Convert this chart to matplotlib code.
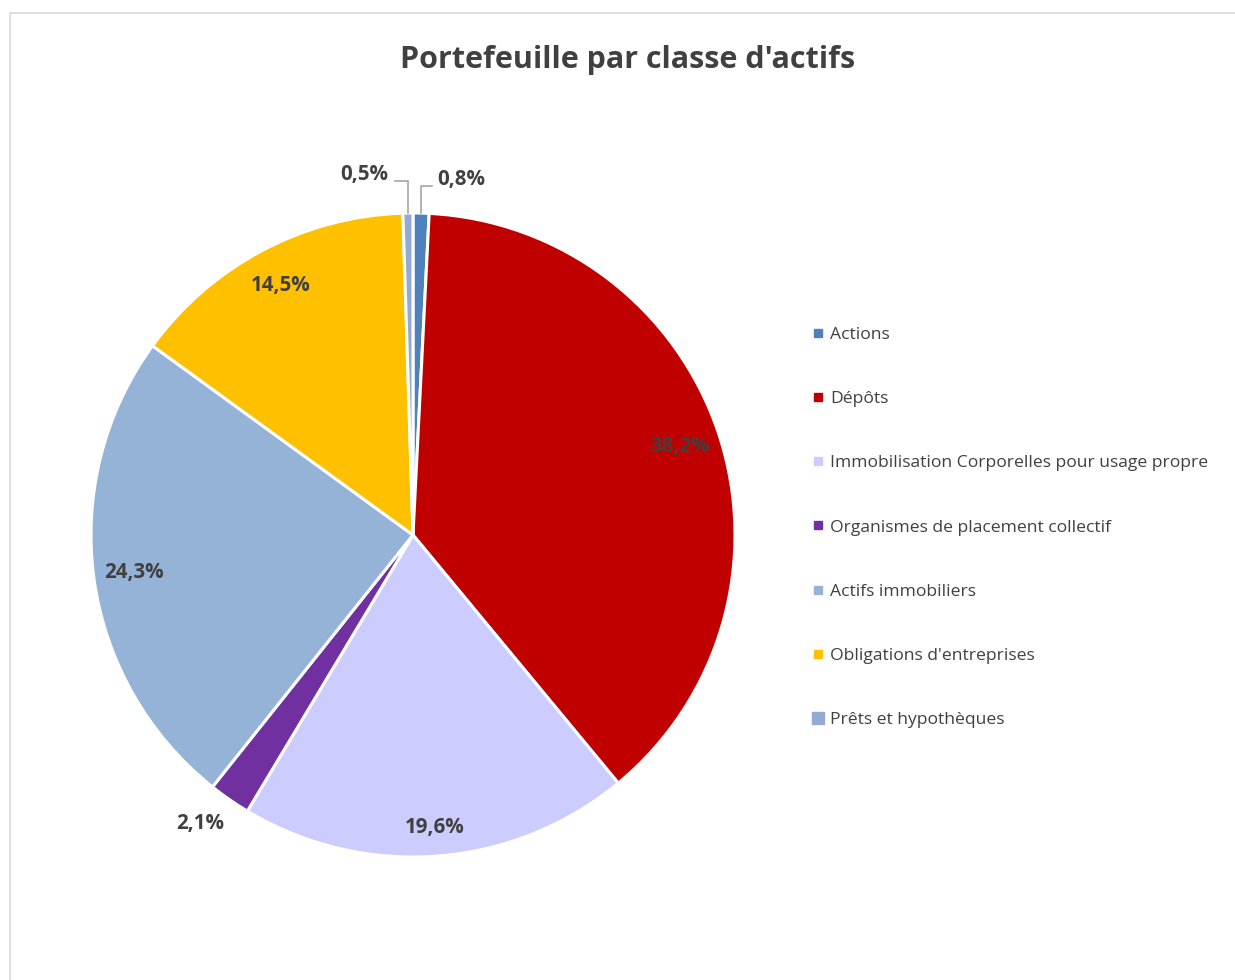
import numpy as np
import matplotlib.pyplot as plt
from matplotlib.lines import Line2D
from matplotlib.patches import Rectangle

plt.rcParams['font.family'] = ['Open Sans', 'DejaVu Sans']

# données
categories = ['Actions', 'Dépôts', 'Immobilisation Corporelles pour usage propre',
              'Organismes de placement collectif', 'Actifs immobiliers',
              "Obligations d'entreprises", 'Prêts et hypothèques']
values = [0.8, 38.2, 19.6, 2.1, 24.3, 14.5, 0.5]
colors = ['#4F81BD', '#C00000', '#CCCCFF', '#7030A0', '#95B3D7', '#FFC000', '#94A9D4']
label_txt = ['0,8%', '38,2%', '19,6%', '2,1%', '24,3%', '14,5%', '0,5%']

fig = plt.figure(figsize=(12.35, 9.8), dpi=100)

# cadre gris du graphique
fig.patches.append(Rectangle((10 / 1235, -0.1), 1.2, (980 - 13) / 980 + 0.1,
                             transform=fig.transFigure, fill=False,
                             edgecolor='#d9d9d9', lw=1.2))

fig.text(0.508, 0.939, "Portefeuille par classe d'actifs", ha='center', va='center',
         fontsize=22, fontweight='bold', color='#404040')

ax = fig.add_axes([91 / 1235, 123 / 980, 644 / 1235, 644 / 980])
wedges, _ = ax.pie(values, colors=colors, startangle=90, counterclock=False,
                   radius=1, wedgeprops=dict(edgecolor='white', linewidth=2.2))
ax.set_xlim(-1, 1)
ax.set_ylim(-1, 1)
ax.set_aspect('equal')
ax.axis('off')

txt_kw = dict(fontsize=14.8, fontweight='bold', color='#404040', ha='center', va='center')
for i, w in enumerate(wedges):
    ang = np.deg2rad((w.theta1 + w.theta2) / 2)
    if i == 0 or i == 6:
        # petites parts: ligne de rappel
        x0 = np.cos(ang)
        yl = 1.10 if i == 6 else 1.085
        if i == 0:
            xe = x0 + 0.035
            ax.plot([x0, x0, xe], [np.sin(ang), yl, yl], color='#a6a6a6', lw=1.2, clip_on=False)
            ax.text(xe + 0.015, yl + 0.02, label_txt[i], clip_on=False,
                    **{**txt_kw, 'ha': 'left'})
        else:
            xe = x0 - 0.04
            ax.plot([x0, x0, xe], [np.sin(ang), yl, yl], color='#a6a6a6', lw=1.2, clip_on=False)
            ax.text(xe - 0.02, yl + 0.02, label_txt[i], clip_on=False,
                    **{**txt_kw, 'ha': 'right'})
    elif i == 3:
        ax.text(1.09 * np.cos(ang) - 0.04, 1.09 * np.sin(ang), label_txt[i],
                clip_on=False, **txt_kw)
    else:
        r = 0.91 if i == 2 else 0.875
        ax.text(r * np.cos(ang), r * np.sin(ang), label_txt[i], **txt_kw)

# légende
handles = []
for i, c in enumerate(colors):
    ms = 9 if i == 6 else 6
    handles.append(Line2D([], [], marker='s', linestyle='none', markersize=ms,
                          markerfacecolor=c, markeredgecolor=c))
fig.legend(handles, categories, loc='upper left', bbox_to_anchor=(804 / 1235, 1 - 318 / 980),
           frameon=False, fontsize=12.6, labelspacing=2.74, handlelength=0.6,
           handletextpad=0.4, labelcolor='#404040', borderpad=0)

fig.savefig('out.png', dpi=100)
